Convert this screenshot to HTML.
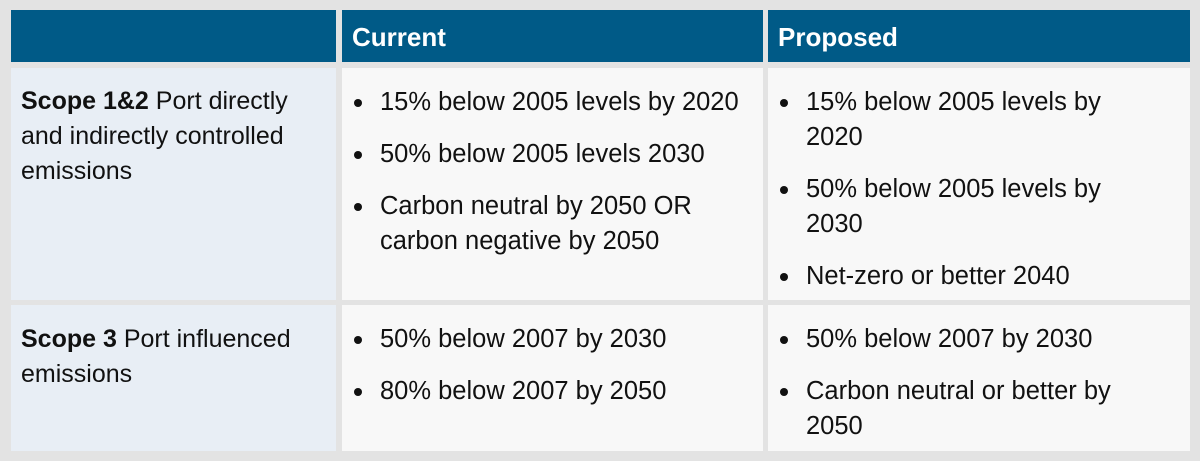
<!DOCTYPE html>
<html><head><meta charset="utf-8"><style>
body{margin:0;width:1200px;height:461px;background:#e3e3e3;font-family:"Liberation Sans",sans-serif;overflow:hidden;position:relative}
.c{position:absolute;box-sizing:border-box}
.h{background:#005a87;color:#fff;font-weight:bold;font-size:26px;line-height:54px;padding-left:10px}
.l{background:#e8eef5;font-size:25px;line-height:35px;padding:16px 6px 16px 10px;color:#111}
.b{background:#f8f8f8;font-size:25.5px;line-height:35px;color:#111}
ul{margin:0;padding:0;list-style:none}
li{position:relative;padding-left:38px;margin-bottom:17px}
li:before{content:"";position:absolute;left:12px;top:14px;width:8px;height:8px;border-radius:50%;background:#111}
</style></head><body>
<div class="c h" style="left:11px;top:10px;width:325px;height:52px"></div>
<div class="c h" style="left:342px;top:10px;width:421px;height:52px">Current</div>
<div class="c h" style="left:768px;top:10px;width:422px;height:52px">Proposed</div>

<div class="c l" style="left:11px;top:68px;width:325px;height:232px"><b>Scope 1&amp;2</b> Port directly and indirectly controlled emissions</div>
<div class="c b" style="left:342px;top:68px;width:421px;height:232px;padding-top:17px;padding-right:4px"><ul>
<li>15% below 2005 levels by 2020</li>
<li>50% below 2005 levels 2030</li>
<li>Carbon neutral by 2050 OR carbon negative by 2050</li></ul></div>
<div class="c b" style="left:768px;top:68px;width:422px;height:232px;padding-top:17px;padding-right:40px"><ul>
<li>15% below 2005 levels by 2020</li>
<li>50% below 2005 levels by 2030</li>
<li>Net-zero or better 2040</li></ul></div>

<div class="c l" style="left:11px;top:305px;width:325px;height:146px;padding-top:17px;padding-right:20px"><b>Scope 3</b> Port influenced emissions</div>
<div class="c b" style="left:342px;top:305px;width:421px;height:146px;padding-top:17px"><ul>
<li>50% below 2007 by 2030</li>
<li>80% below 2007 by 2050</li></ul></div>
<div class="c b" style="left:768px;top:305px;width:422px;height:146px;padding-top:17px;padding-right:40px"><ul>
<li>50% below 2007 by 2030</li>
<li>Carbon neutral or better by 2050</li></ul></div>
</body></html>
